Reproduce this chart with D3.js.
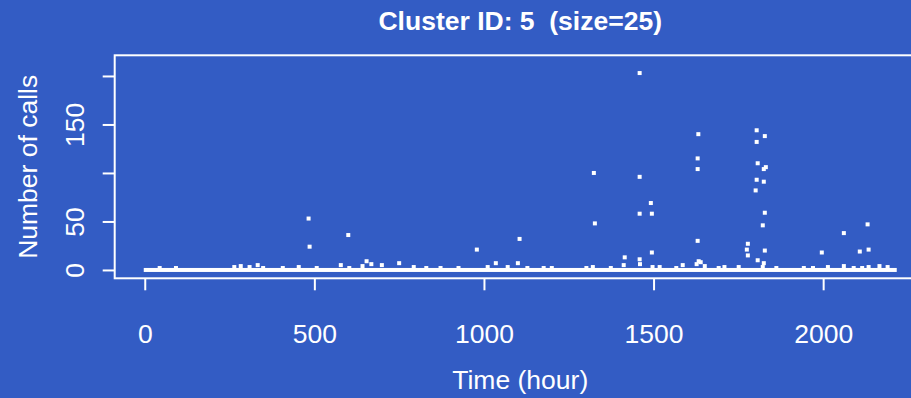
<!DOCTYPE html>
<html>
<head>
<meta charset="utf-8">
<script src="https://cdn.jsdelivr.net/npm/d3@7"></script>
<style>
  html, body { margin: 0; padding: 0; background: #335cc4; }
  svg { display: block; }
  text { font-family: "Liberation Sans", Arial, sans-serif; fill: #fff; white-space: pre; }
</style>
</head>
<body>
<svg id="svg_cluster" width="911" height="398"></svg>
<script>
const title = 'Cluster ID: 5  (size=25)'
const xLabel = 'Time (hour)'
const yLabel = 'Number of calls'

// hours where every series sits at 0 calls
const zeroSpan = [0, 2214]

// non-zero observations (hour, calls)
const hours = [
  483, 486, 600, 1459, 1632, 1630, 1630, 1324, 1459, 1492, 1459, 1495, 1327, 1630,
  1105, 979, 1495, 1415, 1459, 1804, 1828, 1804, 1807, 1831, 1825, 1804, 1825, 1801,
  1828, 1822, 1778, 1775, 1778, 1828, 1807, 1825, 2131, 2061, 2108, 2134, 1996,
  44, 92, 264, 283, 309, 333, 349, 407, 454, 507, 578, 603, 642, 654, 668, 699, 750,
  793, 830, 872, 925, 1011, 1035, 1070, 1100, 1128, 1176, 1200, 1302, 1321, 1374,
  1412, 1460, 1497, 1518, 1567, 1586, 1627, 1633, 1639, 1651, 1692, 1709, 1751, 1822,
  1862, 1943, 1970, 2014, 2061, 2090, 2115, 2134, 2166, 2190
]
const calls = [
  53, 24, 36, 203, 140, 115, 104, 100, 96, 69, 58, 58, 48, 30,
  32, 21, 18, 13, 11, 144, 138, 132, 110, 106, 104, 93, 91, 82,
  59, 46, 27, 21, 15, 20, 10, 7, 47, 38, 19, 21, 18,
  2, 2, 3, 4, 3, 5, 2, 2, 3, 2, 5, 2, 4, 9, 6, 5, 7,
  3, 2, 2, 2, 3, 7, 3, 7, 2, 2, 2, 2, 3, 2,
  5, 6, 3, 3, 2, 5, 6, 9, 8, 4, 2, 3, 3, 3,
  2, 2, 2, 3, 4, 2, 2, 3, 4, 3
]

const xTicks = [0, 500, 1000, 1500, 2000]
const yTicks = [0, 50, 100, 150, 200]
const yTickLabels = ['0', '50', '', '150', '']

const svg = d3.select('#svg_cluster')

const box = { left: 114.7, right: 925.8, top: 55.3, bottom: 278.3 }

svg.append('rect')
  .attr('width', 911)
  .attr('height', 398)
  .attr('fill', '#335cc4')

const xscale = d3.scaleLinear()
  .domain([-88.6, 2302.6])
  .range([box.left, box.right])

const yscale = d3.scaleLinear()
  .domain([-8.6, 221.3])
  .range([box.bottom, box.top])

// zero baseline
svg.append('rect')
  .attr('x', xscale(zeroSpan[0]) - 1)
  .attr('y', yscale(0) - 2)
  .attr('width', xscale(zeroSpan[1]) - xscale(zeroSpan[0]) + 2)
  .attr('height', 4)
  .attr('fill', '#fff')

const points = hours.map((h, i) => ({ hour: h, calls: calls[i] }))

svg.append('g')
  .selectAll('rect')
  .data(points)
  .enter()
  .append('rect')
  .attr('x', d => xscale(d.hour) - 2)
  .attr('y', d => yscale(d.calls) - 2)
  .attr('width', 4)
  .attr('height', 4)
  .attr('fill', '#fff')

// box
svg.append('rect')
  .attr('x', box.left)
  .attr('y', box.top)
  .attr('width', box.right - box.left)
  .attr('height', box.bottom - box.top)
  .attr('fill', 'none')
  .attr('stroke', '#fff')
  .attr('stroke-width', 2)

const xAxis = d3.axisBottom(xscale)
  .tickValues(xTicks)
  .tickSize(12)
  .tickPadding(0)
  .tickFormat(() => '')
const gx = svg.append('g')
  .attr('transform', `translate(0, ${box.bottom})`)
  .call(xAxis)
gx.select('.domain').remove()
gx.selectAll('line').attr('stroke', '#fff').attr('stroke-width', 2)
gx.selectAll('.tick')
  .append('text')
  .attr('y', 343 - box.bottom)
  .attr('text-anchor', 'middle')
  .style('font-size', '26.5px')
  .text(d => d)

const yAxis = d3.axisLeft(yscale)
  .tickValues(yTicks)
  .tickSize(12)
  .tickFormat(() => '')
const gy = svg.append('g')
  .attr('transform', `translate(${box.left}, 0)`)
  .call(yAxis)
gy.select('.domain').remove()
gy.selectAll('line').attr('stroke', '#fff').attr('stroke-width', 2)
gy.selectAll('.tick')
  .append('text')
  .attr('transform', `translate(${83.5 - box.left}, 0) rotate(-90)`)
  .attr('text-anchor', 'middle')
  .style('font-size', '26.5px')
  .text((d, i) => yTickLabels[i])

const midX = (box.left + box.right) / 2
const midY = (box.top + box.bottom) / 2

svg.append('text')
  .text(title)
  .attr('x', midX)
  .attr('y', 30.3)
  .attr('text-anchor', 'middle')
  .style('font-size', '26.5px')
  .style('font-weight', 'bold')

svg.append('text')
  .text(xLabel)
  .attr('x', midX)
  .attr('y', 388.5)
  .attr('text-anchor', 'middle')
  .style('font-size', '26.5px')

svg.append('text')
  .text(yLabel)
  .attr('transform', `translate(37, ${midY}) rotate(-90)`)
  .attr('text-anchor', 'middle')
  .style('font-size', '26.5px')
</script>
</body>
</html>
